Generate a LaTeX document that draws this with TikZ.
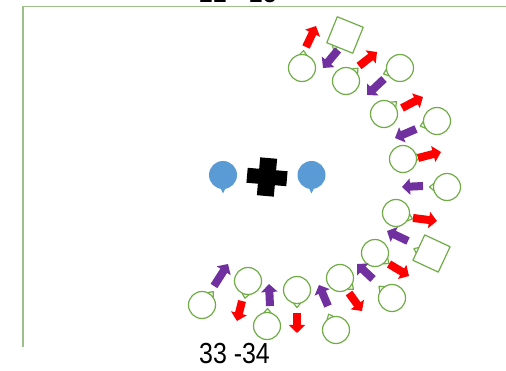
\documentclass[tikz,border=0pt]{standalone}
\usepackage{fontspec}
\setmainfont{Liberation Sans}
\usetikzlibrary{arrows.meta,calc}
\definecolor{loopgreen}{HTML}{70AD47}
\definecolor{framegreen}{HTML}{9DC08B}
\definecolor{arrred}{HTML}{FF0000}
\definecolor{arrpurple}{HTML}{7030A0}
\definecolor{dropblue}{HTML}{5B9BD5}
\tikzset{
  redarr/.style={draw=arrred, line width=8pt, -{Triangle[width=16pt,length=8pt]}},
  purarr/.style={draw=arrpurple, line width=8pt, -{Triangle[width=16pt,length=8pt]}},
  loopline/.style={draw=loopgreen, line width=1.2pt, line join=round},
  loopc/.style={circle, draw=loopgreen, line width=1.2pt, minimum size=27pt, inner sep=0pt},
  dropc/.style={circle, fill=dropblue, minimum size=28pt, inner sep=0pt},
  frameline/.style={draw=framegreen},
  lbl/.style={font=\fontsize{29}{29}\selectfont, xscale=0.86, anchor=base west, inner sep=0pt}
}
\newcommand\loopshape[4]{%
  \node[loopc] (#1) at (#2,#3) {};
  \draw[loopline] ($(#1)+(#4-16:13.5)$) -- ($(#1)+(#4:17.5)$) -- ($(#1)+(#4+16:13.5)$);
}
\begin{document}
\begin{tikzpicture}[x=1pt,y=-1pt]
\useasboundingbox (0,0) rectangle (506,371);
\clip (0,0) rectangle (506,371);
\fill[white] (0,0) rectangle (506,371);
% frame
\coordinate (f0) at (23,6.5);
\coordinate (f1) at (506,6.5);
\coordinate (f2) at (23,347);
\draw[frameline, line width=1.8pt] (f0) -- (f1);
\draw[frameline, line width=1.1pt] (f0) -- (f2);
% labels
\node[lbl] (top) at (199,3) {22 - 23};
\node[lbl] (bot) at (199,363) {33 -34};
% loops
\loopshape{c1}{302}{68}{275}
\loopshape{c2}{346}{81}{313}
\loopshape{c3}{400}{68}{160}
\loopshape{c4}{384}{114}{315}
\loopshape{c5}{437}{121}{163}
\loopshape{c6}{403}{159}{352}
\loopshape{c7}{447}{187}{180}
\loopshape{c8}{396}{213}{20}
\loopshape{c9}{375}{253}{37}
\loopshape{c10}{392}{298}{222}
\loopshape{c11}{340}{278}{40}
\loopshape{c12}{336}{330}{245}
\loopshape{c13}{297}{290}{90}
\loopshape{c14}{267}{326}{272}
\loopshape{c15}{248}{281}{100}
\loopshape{c16}{202}{305}{310}
% squares
\begin{scope}[shift={(345,35)}, rotate=-22]
  \draw[loopline] (-14,-14) rectangle (14,14);
  \draw[loopline] (-8,14) -- (-5,18) -- (-2,14);
\end{scope}
\begin{scope}[shift={(431.5,253.5)}, rotate=-25]
  \draw[loopline] (-14,-14) rectangle (14,14);
  \draw[loopline] (-14,0) -- (-18,3) -- (-14,6);
\end{scope}
% red arrows
\draw[redarr] (306,47) -- (316,26);
\draw[redarr] (359,66) -- (377,52);
\draw[redarr] (402,108) -- (423,97);
\draw[redarr] (418,158) -- (441,152);
\draw[redarr] (413,218) -- (437,221);
\draw[redarr] (389,264) -- (409,276);
\draw[redarr] (349,293) -- (362,311);
\draw[redarr] (297,313) -- (297,333);
\draw[redarr] (242,301) -- (237,321);
% purple arrows
\draw[purarr] (338,50) -- (323,68);
\draw[purarr] (384,79) -- (367,95);
\draw[purarr] (416,129) -- (395,138);
\draw[purarr] (423,186) -- (402,187);
\draw[purarr] (408,241) -- (387,231);
\draw[purarr] (373,279) -- (357,264);
\draw[purarr] (328,306) -- (319,285);
\draw[purarr] (270,306) -- (269,284);
\draw[purarr] (214,286) -- (228,264);
% drops
\node[dropc] (d1) at (223,175) {};
\fill[dropblue] ($(d1)+(78:13)$) -- ($(d1)+(90:18.5)$) -- ($(d1)+(102:13)$) -- cycle;
\node[dropc] (d2) at (311.5,175) {};
\fill[dropblue] ($(d2)+(78:13)$) -- ($(d2)+(90:18.5)$) -- ($(d2)+(102:13)$) -- cycle;
% cross
\begin{scope}[shift={(267,177)}, rotate=-5]
  \fill[black] (-20,-7.5) rectangle (20,7.5);
  \fill[black] (-8.5,-19) rectangle (8.5,19);
\end{scope}
\end{tikzpicture}
\end{document}
